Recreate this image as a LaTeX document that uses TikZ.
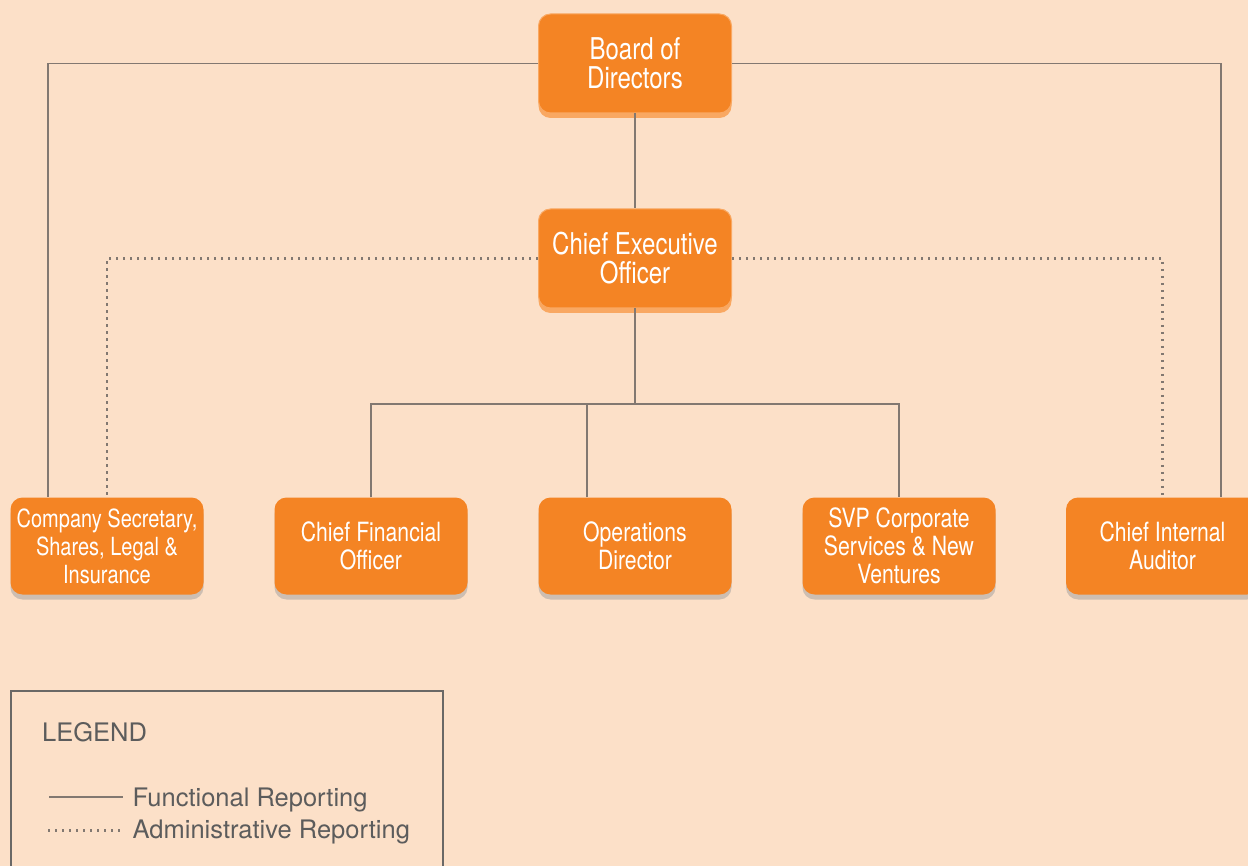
\documentclass[tikz,border=0pt]{standalone}
\usepackage{fontspec}
\setmainfont{TeX Gyre Heros}
\newfontfamily\boxfont[FakeStretch=0.8]{TeX Gyre Heros}
\usetikzlibrary{shadows}

\definecolor{bg}{RGB}{252,224,200}
\definecolor{orangebox}{RGB}{244,132,36}
\definecolor{orangerim}{RGB}{249,168,98}
\definecolor{wire}{RGB}{130,120,113}
\definecolor{legendgrey}{RGB}{92,92,92}
\definecolor{legendframe}{RGB}{106,104,102}
\definecolor{greyshadow}{RGB}{205,190,178}

\begin{document}
\begin{tikzpicture}[x=1pt,y=-1pt,
  orgbox/.style={rectangle, rounded corners=12pt, fill=orangebox, text=white,
    minimum width=193pt, align=center, inner sep=0pt},
  topbox/.style={orgbox, minimum height=99pt, draw=orangerim, line width=1pt,
    font=\boxfont\fontsize{30}{29}\selectfont,
    drop shadow={shadow xshift=0pt, shadow yshift=-5pt, fill=orangerim, opacity=1}},
  lowbox/.style={orgbox, minimum height=97pt,
    font=\boxfont\fontsize{26.5}{28}\selectfont,
    drop shadow={shadow xshift=0pt, shadow yshift=-5pt, fill=greyshadow, opacity=1}},
  smallbox/.style={lowbox, font=\boxfont\fontsize{25}{28}\selectfont},
  func/.style={draw=wire, line width=1.6pt},
  admin/.style={draw=wire, line width=2.4pt, dash pattern=on 2.2pt off 4.8pt},
  legendtext/.style={anchor=base west, inner sep=0pt, text=legendgrey,
    font=\fontsize{25.5}{26}\selectfont},
]
% page and background
\fill[bg] (0,0) rectangle (1248,866);
\useasboundingbox (0,0) rectangle (1248,866);

% executive boxes
\node[topbox] (board) at (635,63.5) {Board of\\Directors};
\node[topbox] (ceo) at (635,258.5) {Chief Executive\\Officer};

% direct reports
\node[smallbox] (cosec) at (107,546) {Company Secretary,\\Shares, Legal \&\\Insurance};
\node[lowbox] (cfo) at (371,546) {Chief Financial\\Officer};
\node[lowbox] (ops) at (635,546) {Operations\\Director};
\node[lowbox] (svp) at (899,546) {SVP Corporate\\Services \& New\\Ventures};
\node[lowbox] (audit) at (1162.5,546) {Chief Internal\\Auditor};

% functional reporting lines
\coordinate (hub) at (635,404);
\draw[func] (board.west) -| ([xshift=-59pt]cosec.north);
\draw[func] (board.east) -| ([xshift=58.5pt]audit.north);
\draw[func] (board.south) -- (ceo.north);
\draw[func] (ceo.south) -- (hub);
\draw[func] (cfo.north) |- (hub) -| (svp.north);
\draw[func] ([xshift=-48pt]ops.north) -- ([xshift=-48pt]ops.north |- hub);

% administrative reporting lines
\draw[admin] (ceo.west) -| (cosec.north);
\draw[admin] (ceo.east) -| (audit.north);

% legend
\draw[draw=legendframe, line width=2pt] (11,691) rectangle (443,900);
\node[legendtext] (legtitle) at (42,741.7) {LEGEND};
\node[legendtext] (functxt) at (132.5,806.7) {Functional Reporting};
\node[legendtext] (admintxt) at (132.5,838) {Administrative Reporting};
\coordinate (funcstart) at (49,797);
\coordinate (adminstart) at (48,830.5);
\draw[func] (funcstart) -- ([xshift=-10pt]funcstart -| functxt.west);
\draw[admin] (adminstart) -- ([xshift=-8pt]adminstart -| admintxt.west);
\end{tikzpicture}
\end{document}
